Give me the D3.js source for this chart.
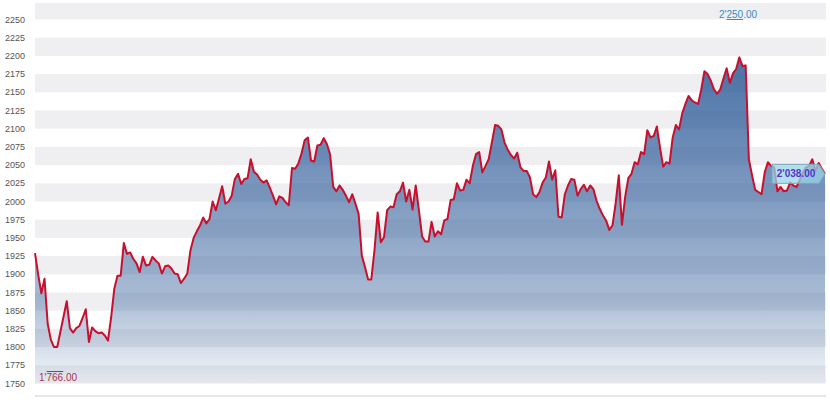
<!DOCTYPE html>
<html>
<head>
<meta charset="utf-8">
<script src="https://cdn.jsdelivr.net/npm/d3@7"></script>
<style>
  html, body { margin: 0; padding: 0; background: #fff; }
  svg { display: block; font-family: "Liberation Sans", Arial, sans-serif; }
</style>
</head>
<body>
<svg id="chart" width="830" height="402"></svg>
<script>
// ---- data ----
const values = [
  1929, 1900, 1874, 1894, 1832, 1810, 1800, 1800, 1821, 1842,
  1863, 1826, 1820, 1826, 1829, 1840, 1852, 1807, 1827, 1822,
  1819, 1820, 1816, 1809, 1841, 1880, 1898, 1898, 1943, 1928,
  1930, 1921, 1915, 1903, 1924, 1912, 1913, 1924, 1919, 1915,
  1901, 1911, 1912, 1908, 1901, 1900, 1888, 1894, 1901, 1933,
  1950, 1959, 1967, 1978, 1970, 1976, 2000, 1988, 2004, 2021,
  1997, 2000, 2008, 2031, 2038, 2024, 2031, 2032, 2058, 2041,
  2037, 2030, 2026, 2029, 2019, 2008, 1996, 2007, 2005, 1999,
  1995, 2046, 2045, 2052,
  2066, 2084, 2088, 2056, 2055, 2077, 2078, 2087, 2079, 2065,
  2020, 2014, 2022, 2016, 2008, 1999, 2010, 1997, 1983, 1926,
  1910, 1893, 1893, 1933, 1985, 1944, 1951, 1988, 1993, 1992,
  2010, 2014, 2026, 2000, 2016, 1989, 2022, 1988, 1952, 1945,
  1945, 1972, 1952, 1959, 1955, 1974, 1976, 2002, 2003, 2025,
  2015, 2016, 2030, 2025, 2049, 2065, 2068, 2040, 2049, 2058,
  2081, 2105, 2104, 2099, 2081, 2071, 2064, 2059, 2067, 2047,
  2042, 2042, 2033, 2010, 2006, 2013, 2026, 2033, 2055, 2030,
  2043, 1979, 1978,
  2010, 2022, 2031, 2030, 2008, 2017, 2023, 2014, 2022, 2017,
  2001, 1990, 1981, 1974, 1961, 1967, 1997, 2036, 1968, 2006,
  2032, 2038, 2054, 2051, 2068, 2065, 2098, 2088, 2090, 2103,
  2074, 2048, 2054, 2052, 2088, 2105, 2099, 2121, 2134, 2145,
  2139, 2136, 2134, 2154, 2179, 2175, 2166, 2154, 2148, 2154,
  2169, 2183, 2163, 2176, 2182, 2198, 2186, 2187, 2058, 2036,
  2016, 2013, 2010, 2040, 2054, 2049, 2047, 2014, 2020, 2014,
  2015, 2026, 2022, 2020, 2029, 2040, 2047, 2049, 2058, 2042,
  2053, 2045, 2038
];
const yTicks = d3.range(1750, 2250 + 1, 25);
const highLabel = ["2'", "250", ".00"];
const lowLabel = ["1'", "766", ".00"];
const lastLabel = "2'038.00";

// ---- layout ----
const W = 830, H = 402;
const left = 35, right = 825, plotTop = 3;
const svg = d3.select("#chart");

const x = d3.scaleLinear().domain([0, values.length - 1]).range([left, right]);
const y = d3.scaleLinear().domain([1750, 2250]).range([383.5, 19.5]);
const topVal = y.invert(plotTop);

// gradient for area
const defs = svg.append("defs");
const grad = defs.append("linearGradient")
  .attr("id", "areaGrad").attr("gradientUnits", "userSpaceOnUse")
  .attr("x1", 0).attr("x2", 0).attr("y1", y(2250)).attr("y2", y(1750));
[[0, 0.92], [0.5, 0.6], [0.77, 0.4], [1, 0.05]].forEach(([o, a]) => {
  grad.append("stop").attr("offset", o).attr("stop-color", "#2c5a98").attr("stop-opacity", a);
});

// bands
const bands = [];
for (let v = 1750; v < topVal; v += 50) bands.push([v, Math.min(v + 25, topVal)]);
svg.append("g").selectAll("rect").data(bands).join("rect")
  .attr("x", left).attr("width", right + 1 - left)
  .attr("y", d => y(d[1])).attr("height", d => y(d[0]) - y(d[1]))
  .attr("fill", "#efeff1");

// y tick labels
svg.append("g").selectAll("text").data(yTicks).join("text")
  .attr("x", 25).attr("y", d => y(d)).attr("dy", "0.35em")
  .attr("text-anchor", "end").attr("font-size", 9).attr("fill", "#555")
  .text(d => d);

// bottom axis line
svg.append("line").attr("x1", left).attr("x2", right + 1)
  .attr("y1", 396).attr("y2", 396).attr("stroke", "#dcdcdc").attr("stroke-width", 1.5);

// area
const area = d3.area().x((d, i) => x(i)).y0(y(1750)).y1(d => y(d));
svg.append("path").datum(values).attr("d", area).attr("fill", "url(#areaGrad)");

// line
const line = d3.line().x((d, i) => x(i)).y(d => y(d));
svg.append("path").datum(values).attr("d", line)
  .attr("fill", "none").attr("stroke", "#c8102e").attr("stroke-width", 2)
  .attr("stroke-linejoin", "round");

// high label
const hi = svg.append("text").attr("x", 719).attr("y", 18)
  .attr("font-size", 10).attr("fill", "#3a8cc4");
hi.append("tspan").text(highLabel[0]);
hi.append("tspan").style("text-decoration", "underline").text(highLabel[1]);
hi.append("tspan").text(highLabel[2]);

// low label
const lo = svg.append("text").attr("x", 39).attr("y", 381)
  .attr("font-size", 10).attr("fill", "#a8344c");
lo.append("tspan").text(lowLabel[0]);
lo.append("tspan").style("text-decoration", "overline").text(lowLabel[1]);
lo.append("tspan").text(lowLabel[2]);

// last value label
const lx = x(values.length - 1), ly = y(values[values.length - 1]);
const bx0 = 772, bx1 = lx - 6, hh = 9.5;
svg.append("path")
  .attr("d", `M${bx0},${ly - hh} H${bx1} L${lx},${ly} L${bx1},${ly + hh} H${bx0} Z`)
  .attr("fill", "rgba(150,214,232,0.75)").attr("stroke", "#7fa6b8").attr("stroke-width", 1);
svg.append("text").attr("x", (bx0 + bx1) / 2 + 0.5).attr("y", ly).attr("dy", "0.35em")
  .attr("text-anchor", "middle").attr("font-size", 10).attr("font-weight", "bold")
  .attr("fill", "#5a32c8").text(lastLabel);
</script>
</body>
</html>
